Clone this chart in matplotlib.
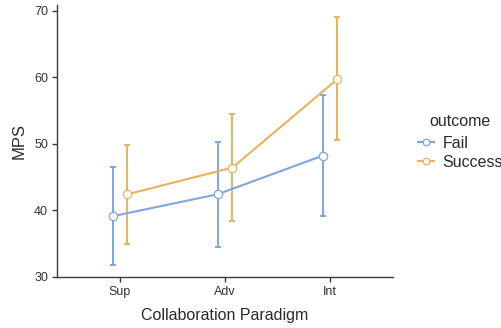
import matplotlib.pyplot as plt
import numpy as np

plt.rcParams['font.family'] = ['Liberation Sans', 'DejaVu Sans']

paradigms = ['Sup', 'Adv', 'Int']
outcomes = ['Fail', 'Success']
mps_mean = {'Fail': [39.1, 42.4, 48.2], 'Success': [42.4, 46.4, 59.7]}
mps_low = {'Fail': [31.8, 34.5, 39.1], 'Success': [34.9, 38.4, 50.5]}
mps_high = {'Fail': [46.5, 50.2, 57.3], 'Success': [49.8, 54.4, 69.0]}

colors = {'Fail': '#7fa6e3', 'Success': '#e8b35c'}
offsets = {'Fail': -0.07, 'Success': 0.07}
axis_grey = '#3a3a3a'
text_grey = '#2a2a2a'

fig = plt.figure(figsize=(5.02, 3.28), dpi=100)
ax = fig.add_axes([0.1135, 0.155, 0.6695, 0.83])

x = np.arange(1, len(paradigms) + 1)
for name in outcomes:
    xs = x + offsets[name]
    mean = np.array(mps_mean[name])
    err = [mean - np.array(mps_low[name]), np.array(mps_high[name]) - mean]
    ax.errorbar(xs, mean, yerr=err, fmt='none', ecolor=colors[name],
                elinewidth=1.4, capsize=2.2, capthick=1.4, zorder=2)
    ax.plot(xs, mean, color=colors[name], linewidth=1.5, marker='o',
            markersize=6, markerfacecolor='white', markeredgecolor=colors[name],
            markeredgewidth=0.9, label=name, zorder=3)

ax.set_xlim(0.4, 3.6)
ax.set_ylim(29.94, 70.86)
ax.set_xticks(x)
ax.set_xticklabels(paradigms)
ax.set_yticks([30, 40, 50, 60, 70])

for side in ['top', 'right']:
    ax.spines[side].set_visible(False)
for side in ['left', 'bottom']:
    ax.spines[side].set_color(axis_grey)
    ax.spines[side].set_linewidth(1.0)
ax.tick_params(colors=axis_grey, labelcolor='#333333', labelsize=9,
               length=3.5, width=1.0, pad=3)

ax.set_xlabel('Collaboration Paradigm', fontsize=11.5, color=text_grey, labelpad=7)
ax.set_ylabel('MPS', fontsize=12, color=text_grey, labelpad=5)

# legend keys and labels, title placed separately
leg = ax.legend(loc='upper left', bbox_to_anchor=(418 / 502, 1 - 136 / 328),
                bbox_transform=fig.transFigure, borderpad=0, borderaxespad=0,
                frameon=False, fontsize=11.5, handlelength=1.0,
                handletextpad=0.55, labelspacing=0.25, markerscale=0.8)
for t in leg.get_texts():
    t.set_color(text_grey)
fig.text(429 / 502, 1 - 122 / 328, 'outcome', fontsize=11.5, color=text_grey,
         ha='left', va='center')

fig.savefig('out.png', dpi=100)
